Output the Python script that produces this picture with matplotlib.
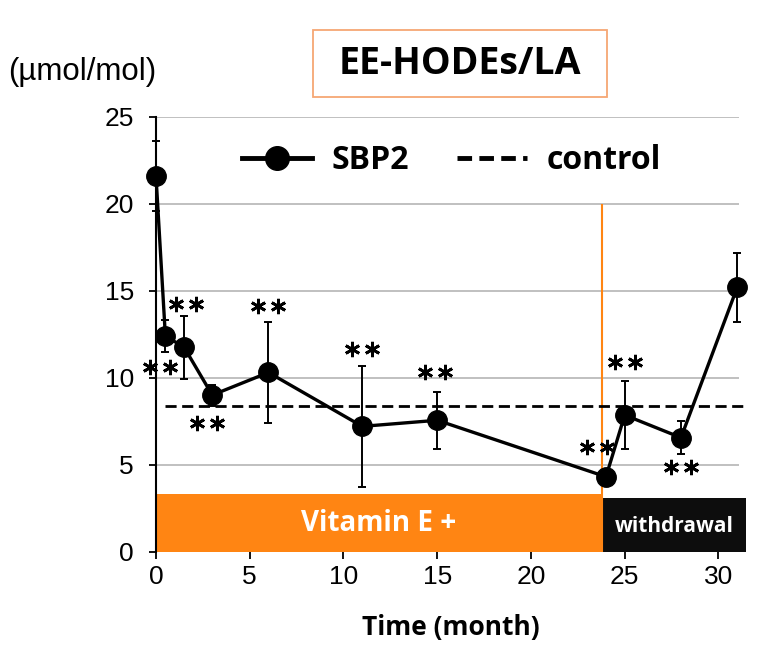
import matplotlib
matplotlib.use("Agg")
import matplotlib.pyplot as plt
from matplotlib.lines import Line2D
from matplotlib.patches import Rectangle
from matplotlib.transforms import ScaledTranslation

# ---- data ----
months = [0, 0.5, 1.5, 3, 6, 11, 15, 24, 25, 28, 31]
sbp2 = [21.6, 12.4, 11.75, 9.0, 10.3, 7.2, 7.55, 4.3, 7.85, 6.55, 15.2]
sbp2_err = [2.0, 0.9, 1.8, 0.6, 2.9, 3.5, 1.65, 0.0, 1.95, 0.95, 2.0]
control = 8.38

sig_x = [0.2, 1.6, 2.7, 6.0, 11.0, 14.9, 23.5, 25.0, 28.0]
sig_y = [10.6, 14.25, 7.4, 14.1, 11.65, 10.3, 6.0, 10.9, 4.85]

xticks = [0, 5, 10, 15, 20, 25, 30]
yticks = [0, 5, 10, 15, 20, 25]
vit_start, vit_end, wd_end = 0, 23.8, 31.45

W, H = 761, 657
fig = plt.figure(figsize=(W / 100, H / 100), dpi=100)
ax = fig.add_axes([156 / W, 1 - 551.5 / H, (746.6 - 156) / W, (551.5 - 117) / H])
ax.set_xlim(0, 31.5)
ax.set_ylim(0, 25)

bold = dict(family=["Open Sans", "DejaVu Sans"], fontweight="bold")

# grid lines
ax.hlines(yticks[1:], 0, 31.1, colors="#b5b5b5", linewidth=1.2, zorder=1)

# treatment bars
ax.bar([(vit_start + vit_end) / 2], [3.3], width=vit_end - vit_start,
       color="#ff8513", edgecolor="none", zorder=2)
ax.bar([(vit_end + wd_end) / 2], [3.1], width=wd_end - vit_end,
       color="#0d0d0d", edgecolor="none", zorder=2)
ax.text((vit_start + vit_end) / 2, 1.6, "Vitamin E +", color="white",
        fontsize=20, ha="center", va="center", zorder=3, **bold)
ax.text((vit_end + wd_end) / 2, 1.45, "withdrawal", color="white",
        fontsize=15, ha="center", va="center", zorder=3, **bold)

# withdrawal line
ax.vlines([vit_end], 0, 20, colors="#ff8513", linewidth=1.5, zorder=2)

# control
ax.axhline(control, xmin=0.5 / 31.5, xmax=31.45 / 31.5, color="black",
           linestyle=(0, (4, 2)), linewidth=2.0, zorder=3)

# series
ax.errorbar(months, sbp2, yerr=sbp2_err, color="black", linewidth=2.4,
            marker="o", markersize=14, ecolor="black", elinewidth=1.4,
            capsize=3, capthick=1.4, zorder=5, clip_on=False)

# significance stars (two asterisks per point)
for dx in (-10, 10):
    tr = ax.transData + ScaledTranslation(dx / 100, 0, fig.dpi_scale_trans)
    ax.plot(sig_x, sig_y, linestyle="none", marker=(6, 2, 0), markersize=11,
            markeredgewidth=2.0, color="black", transform=tr, zorder=6,
            clip_on=False)

# axes styling
for s in ["top", "right", "bottom"]:
    ax.spines[s].set_visible(False)
ax.spines["left"].set_linewidth(1.5)
ax.set_xticks(xticks)
ax.set_yticks(yticks)
ax.tick_params(axis="both", length=5, width=1.3, labelsize=19)
ax.tick_params(axis="y", pad=11)
ax.tick_params(axis="x", pad=5)
for lbl in ax.get_xticklabels() + ax.get_yticklabels():
    lbl.set_family("Liberation Sans")

ax.set_xlabel("Time (month)", fontsize=19, labelpad=18, **bold)
fig.text(8 / W, 1 - 72 / H, "(µmol/mol)", fontsize=22.5, ha="left", va="center",
         family="Liberation Sans")

# title
fig.patches.append(Rectangle((313 / W, 1 - 97 / H), 294 / W, 67 / H,
                             transform=fig.transFigure, facecolor="white",
                             edgecolor="#f6a774", linewidth=1.3))
fig.text(460 / W, 1 - 64 / H, "EE-HODEs/LA", fontsize=27, ha="center",
         va="center", **bold)

# legend
handles = [Line2D([], [], color="black", linewidth=3.5, marker="o", markersize=17),
           Line2D([], [], color="black", linewidth=3.5, linestyle=(0, (3, 1.5)))]
leg = ax.legend(handles, ["SBP2", "control"], loc="center", ncol=2,
                bbox_to_anchor=(0.50, 0.9), frameon=False, handlelength=2.2,
                columnspacing=1.5, handletextpad=0.6,
                prop=dict(family="Open Sans", weight="bold", size=23))

fig.savefig("out.png", dpi=100)
